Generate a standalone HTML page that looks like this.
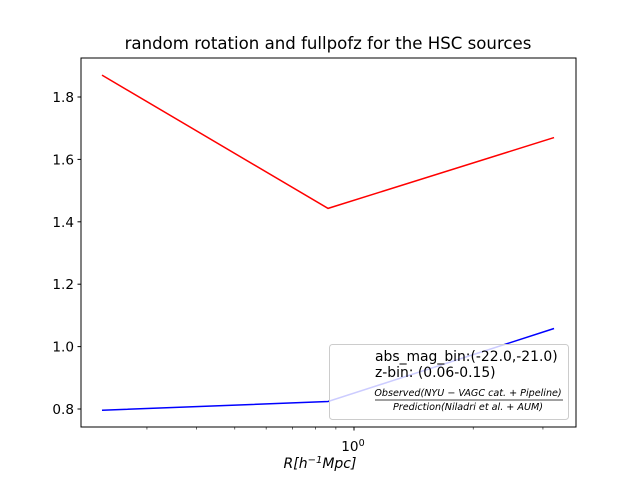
<!DOCTYPE html>
<html><head><meta charset="utf-8"><style>body{margin:0;background:#fff}svg{display:block;font-family:"DejaVu Sans","Liberation Sans",sans-serif}</style></head>
<body>
<svg id="chart" width="640" height="480" viewBox="0 0 640 480">
<rect width="640" height="480" fill="#fff"/>
<text x="328" y="49" font-size="16.6" text-anchor="middle">random rotation and fullpofz for the HSC sources</text>
<g id="marks"></g>
<rect x="81" y="58" width="495" height="369" fill="none" stroke="#000" stroke-width="1"/>
<g id="ticks"></g>
<text x="320" y="468" font-size="14" text-anchor="middle" font-style="italic">R[h<tspan font-size="10" dy="-5">−1</tspan><tspan dy="5">Mpc]</tspan></text>
<g>
<rect x="329.5" y="344.5" width="239" height="75" rx="3" fill="#fff" fill-opacity="0.8" stroke="#ccc"/>
<text x="375" y="361" font-size="13.9">abs_mag_bin:(-22.0,-21.0)</text>
<text x="375" y="377" font-size="13.9">z-bin: (0.06-0.15)</text>
<text x="468" y="396" font-size="9.6" font-style="italic" text-anchor="middle">Observed(NYU − VAGC cat. + Pipeline)</text>
<line x1="375" y1="400" x2="563" y2="400" stroke="#000" stroke-width="0.8"/>
<text x="468" y="410" font-size="9.6" font-style="italic" text-anchor="middle">Prediction(Niladri et al. + AUM)</text>
</g>
</svg>
<script>
const radii = [0.231, 0.86, 3.2];
const redValues = [1.87, 1.443, 1.67];
const blueValues = [0.796, 0.824, 1.058];
const yTicks = [0.8, 1.0, 1.2, 1.4, 1.6, 1.8];
const xMinor = [0.2,0.3,0.4,0.5,0.6,0.7,0.8,0.9,2,3];
const NS='http://www.w3.org/2000/svg';
const xs = r => 354 + 396*Math.log10(r);
const ys = v => 409 - (v-0.8)*312;
const marks=document.getElementById('marks'), ticks=document.getElementById('ticks');
function mk(tag, attrs, parent){const e=document.createElementNS(NS,tag);for(const k in attrs)e.setAttribute(k,attrs[k]);parent.appendChild(e);return e;}
[[redValues,'red','red-series-line'],[blueValues,'blue','blue-series-line']].forEach(([vals,c,n])=>{
  const p=mk('polyline',{points:vals.map((v,i)=>xs(radii[i])+','+ys(v)).join(' '),fill:'none',stroke:c,'stroke-width':1.5},marks);
  
  
});
yTicks.forEach(t=>{
  const y=ys(t);
  const l=mk('line',{x1:77.5,x2:81,y1:y,y2:y,stroke:'#000'},ticks);
  
  
  const tx=mk('text',{x:74,y:y+5,'font-size':13.6,'text-anchor':'end'},ticks);
  tx.textContent=t.toFixed(1);
  
  
});
xMinor.forEach(r=>{
  const x=xs(r); if(x<81||x>576)return;
  const l=mk('line',{x1:x,x2:x,y1:427,y2:429.5,stroke:'#000','stroke-width':0.6},ticks);
  
  
});
const mj=mk('line',{x1:xs(1),x2:xs(1),y1:427,y2:430.5,stroke:'#000'},ticks);


const xl=mk('text',{x:xs(1)-1,y:451,'font-size':13.6,'text-anchor':'middle'},ticks);
xl.innerHTML='10<tspan font-size="9.6" dy="-5">0</tspan>';


</script>
</body></html>
